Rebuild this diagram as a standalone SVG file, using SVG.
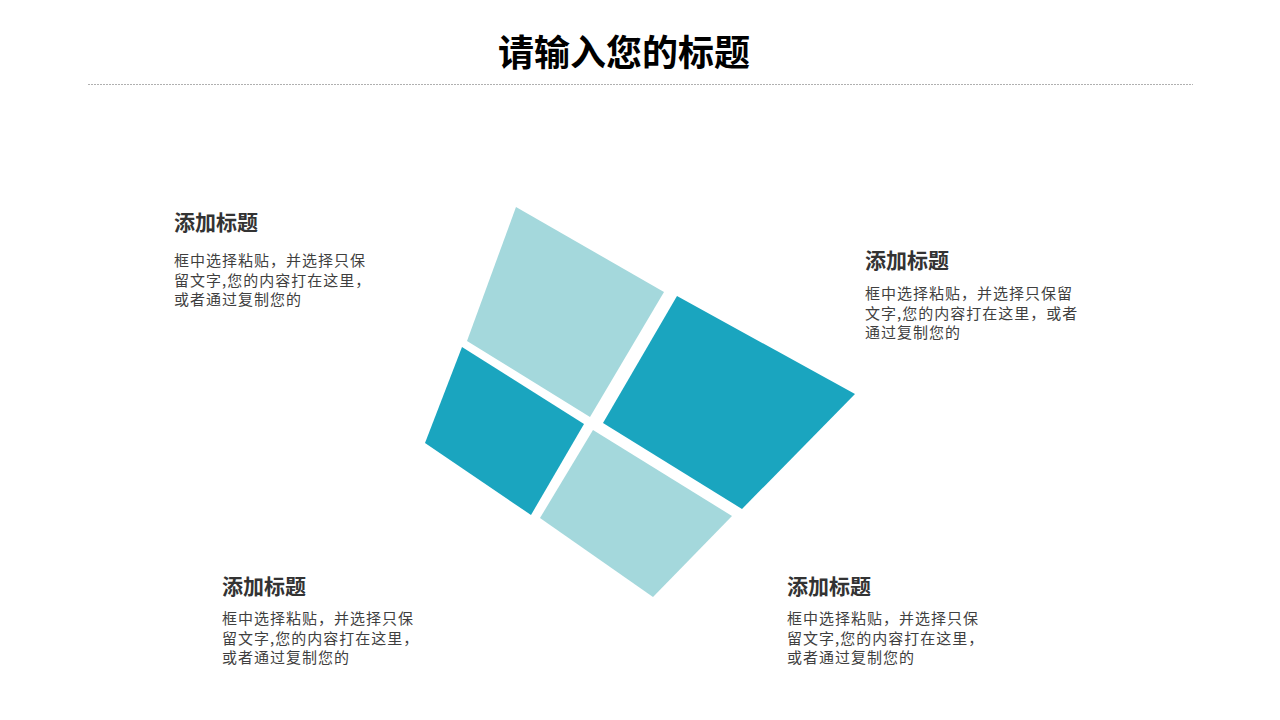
<svg xmlns="http://www.w3.org/2000/svg" width="1280" height="720" viewBox="0 0 1280 720">
<style>
.h{font-family:"Noto Sans CJK SC","Liberation Sans",sans-serif;font-weight:bold;fill:#333333;font-size:21px}
.b{font-family:"Noto Sans CJK SC","Liberation Sans",sans-serif;fill:#3f3f3f;font-size:15px;letter-spacing:1px}
.dark{fill:#1aa5bf}
.light{fill:#a4d8dc}
</style>
<rect width="1280" height="720" fill="#ffffff"/>
<g id="header">
<text x="624" y="66" text-anchor="middle" font-family="'Noto Sans CJK SC','Liberation Sans',sans-serif" font-weight="bold" font-size="36" fill="#000000">请输入您的标题</text>
<line x1="88" y1="84.5" x2="1193" y2="84.5" stroke="#b0b0b0" stroke-width="1" stroke-dasharray="2,1"/>
</g>
<g id="shapes">
<polygon id="tile-top" class="light" points="516,207 664,292 590,417 467,341"/>
<polygon id="tile-right" class="dark" points="677,296 855,394 742,509 603,423"/>
<polygon id="tile-left" class="dark" points="462,347 584,424 531,515 425,443"/>
<polygon id="tile-bottom" class="light" points="593,430 732,516 653,597 540,518"/>
</g>
<g id="block-tl">
<text class="h" x="174" y="230">添加标题</text>
<text class="b" x="174" y="266">框中选择粘贴，并选择只保</text>
<text class="b" x="174" y="286">留文字,您的内容打在这里，</text>
<text class="b" x="174" y="305">或者通过复制您的</text>
</g>
<g id="block-tr">
<text class="h" x="865" y="268">添加标题</text>
<text class="b" x="865" y="299">框中选择粘贴，并选择只保留</text>
<text class="b" x="865" y="319">文字,您的内容打在这里，或者</text>
<text class="b" x="865" y="338">通过复制您的</text>
</g>
<g id="block-bl">
<text class="h" x="222" y="594">添加标题</text>
<text class="b" x="222" y="624">框中选择粘贴，并选择只保</text>
<text class="b" x="222" y="644">留文字,您的内容打在这里，</text>
<text class="b" x="222" y="663">或者通过复制您的</text>
</g>
<g id="block-br">
<text class="h" x="787" y="594">添加标题</text>
<text class="b" x="787" y="624">框中选择粘贴，并选择只保</text>
<text class="b" x="787" y="644">留文字,您的内容打在这里，</text>
<text class="b" x="787" y="663">或者通过复制您的</text>
</g>
<g id="connectors"></g>
</svg>
